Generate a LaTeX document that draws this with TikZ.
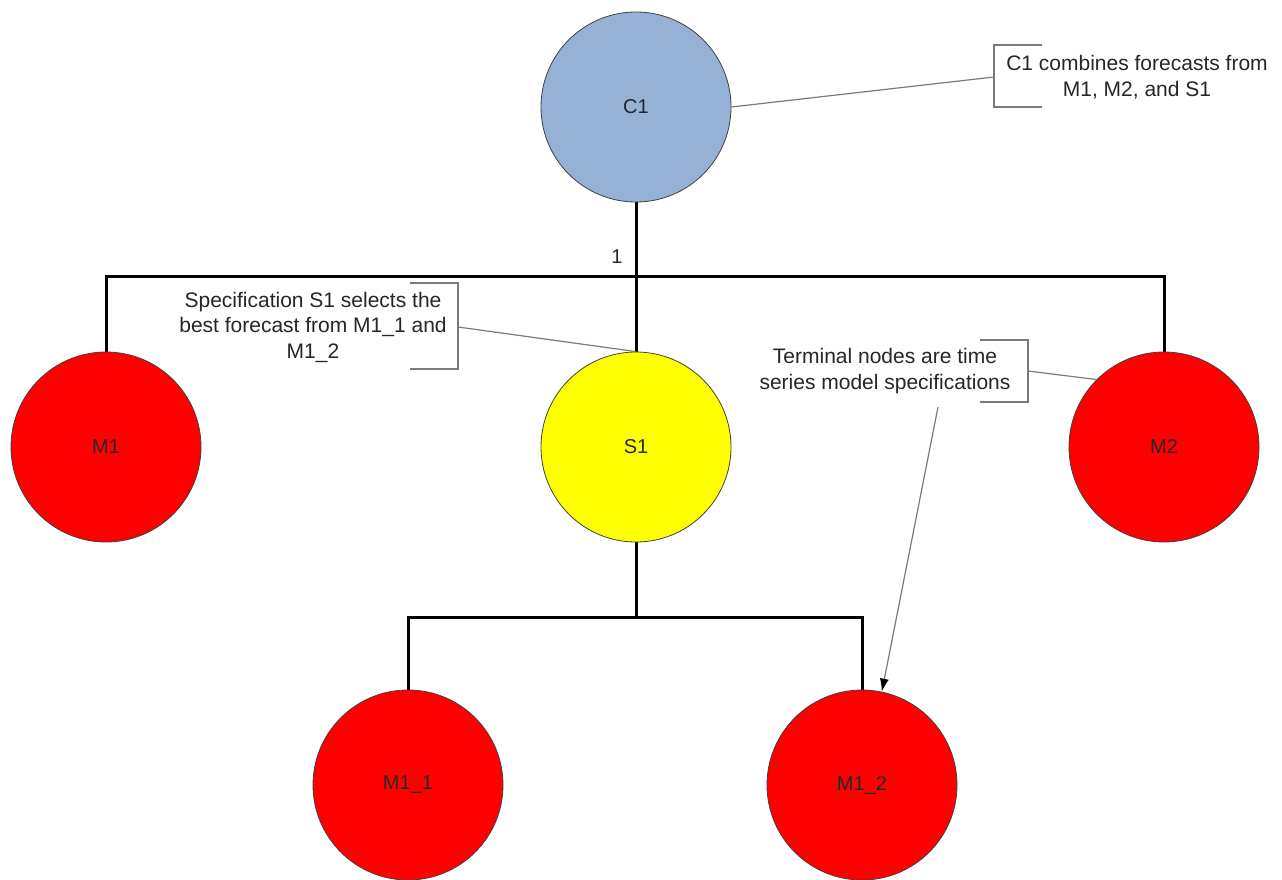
\documentclass[tikz,border=0pt]{standalone}
\usepackage{fontspec}
\setmainfont{Liberation Sans}
\usetikzlibrary{arrows.meta}
\definecolor{cblue}{HTML}{95B1D6}
\definecolor{cyellow}{HTML}{FFFF00}
\definecolor{cred}{HTML}{FF0000}
\definecolor{noteline}{HTML}{7A7A7A}
\tikzset{
  treenode/.style={circle, draw=black!75, line width=0.8pt, minimum size=190pt, inner sep=0pt,
    font=\fontsize{20}{24}\selectfont, text=black!85},
  bus/.style={line width=3pt, black},
  notetext/.style={align=center, inner sep=0pt, font=\fontsize{21}{25.5}\selectfont, text=black!85},
  bracket/.style={draw=noteline, line width=1.2pt},
  callout/.style={draw=noteline, line width=1.2pt},
}
\begin{document}
\begin{tikzpicture}[x=1pt,y=-1pt]
\useasboundingbox (0,0) rectangle (1282,880);
% junction coordinates
\coordinate (j1) at (636,276);
\coordinate (j1l) at (106,276);
\coordinate (j1r) at (1164,276);
\coordinate (j2) at (636,617);
\coordinate (j2l) at (408,617);
\coordinate (j2r) at (862,617);
% connectors (behind nodes)
\draw[bus] (636,107) -- (j1);
\draw[bus, line cap=rect] (j1l) -- (j1r);
\draw[bus] (j1l) -- (106,447);
\draw[bus] (j1) -- (636,447);
\draw[bus] (j1r) -- (1164,447);
\draw[bus] (636,447) -- (j2);
\draw[bus, line cap=rect] (j2l) -- (j2r);
\draw[bus] (j2l) -- (408,785);
\draw[bus] (j2r) -- (862,785);
% nodes
\node[treenode, fill=cblue] (C1) at (636,107) {C1};
\node[treenode, fill=cred] (M1) at (106,447) {M1};
\node[treenode, fill=cyellow] (S1) at (636,447) {S1};
\node[treenode, fill=cred] (M2) at (1164,447) {M2};
\node[treenode, fill=cred] (M11) at (408,785) {M1\_1};
\node[treenode, fill=cred] (M12) at (862,785) {M1\_2};
\node[font=\fontsize{20}{24}\selectfont, text=black!85] (one) at (617,257) {1};
% note 1
\node[notetext] (n1) at (1137,77) {C1 combines forecasts from\\M1, M2, and S1};
\coordinate (b1) at (994,77);
\draw[bracket] (1042,45) -- (994,45) -- (994,107) -- (1042,107);
\draw[callout] (C1.east) -- (b1);
% note 2
\node[notetext] (n2) at (313,327) {Specification S1 selects the\\best forecast from M1\_1 and\\M1\_2};
\coordinate (b2) at (458,327);
\draw[bracket] (410,283) -- (458,283) -- (458,369) -- (410,369);
\draw[callout] (b2) -- (S1.north);
% note 3
\node[notetext] (n3) at (885,371) {Terminal nodes are time\\series model specifications};
\coordinate (b3) at (1028,371);
\coordinate (a3) at (938,407);
\draw[bracket] (980,340) -- (1028,340) -- (1028,402) -- (980,402);
\draw[callout] (b3) -- (M2.135);
\draw[callout, -{Latex[length=13pt,width=9pt,color=black]}] (a3) -- (M12.78);
\end{tikzpicture}
\end{document}
